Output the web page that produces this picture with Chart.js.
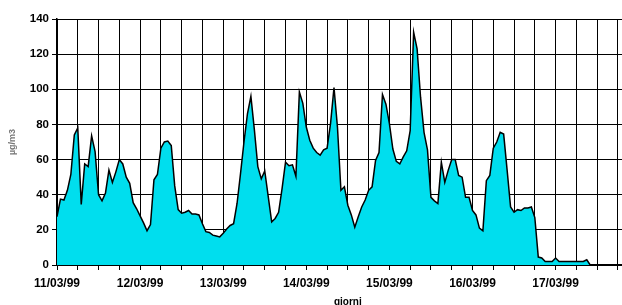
<!DOCTYPE html>
<html>
<head>
<meta charset="utf-8">
<script src="https://cdn.jsdelivr.net/npm/chart.js@4.4.1/dist/chart.umd.min.js"></script>
<style>
  html, body { margin: 0; padding: 0; background: #fff; overflow: hidden; }
  #wrap { width: 622px; height: 305px; overflow: hidden; position: relative; }
  canvas { display: block; }
</style>
</head>
<body>
<div id="wrap"><canvas id="c" width="660" height="312"></canvas></div>
<script>
// Day labels (one tick label per day, every 24 hours)
const dayLabels = ['11/03/99', '12/03/99', '13/03/99', '14/03/99', '15/03/99', '16/03/99', '17/03/99'];

// Hourly concentrations (µg/m3) from 11/03/99 00:00, one value per hour
const concentrations = [
  27.5, 37.5, 37, 42.5, 51.5, 74, 78, 34.5, 57.5, 56, 73.5, 64.5,
  40, 36.5, 41, 54, 47, 53, 60, 57.5, 50, 46.5, 35.5, 32,
  28, 24, 19.5, 23, 48.5, 51.5, 66.5, 70, 70.5, 68, 45, 31.5,
  29.5, 30, 31, 29, 29, 28.5, 23.5, 19, 18.5, 17, 16.5, 16,
  18, 20.5, 22.5, 23.5, 35, 52, 70, 86, 96, 77, 56, 49,
  53.5, 39, 24.5, 26.5, 30, 43.5, 58.5, 56.5, 57, 50.5, 98.5, 92,
  78.5, 71, 66.5, 64, 62.5, 65.5, 66.5, 80.5, 101, 78.5, 42.5, 44.5,
  34, 28.5, 21.5, 27.5, 33, 37, 42.5, 44.5, 59.5, 64, 97, 91.5,
  80.5, 66, 59, 57.5, 61.5, 65, 76.5, 132.5, 123, 95.5, 75.5, 65.5,
  38.5, 36.5, 35, 58.5, 47, 54, 60, 60, 51, 50, 38.5, 38.5,
  31, 28.5, 21, 19.5, 48, 51, 66.5, 70, 75.5, 74.5, 54, 33,
  30, 31.5, 31, 32.5, 32.5, 33, 27, 4.5, 4, 2, 2, 2,
  4, 2, 2, 2, 2, 2, 2, 2, 2, 3, 0, 0,
  0, 0, 0, 0, 0, 0, 0, 0, 0, 0, 0, 0,
  0
];

// Y axis tick range
const yMin = 0, yMax = 140, yStep = 20;
const hoursPerDay = 24, hourStep = 6;

const points = concentrations.map((v, i) => ({ x: i, y: v }));

const tickFont = { family: "'Liberation Sans', Arial, sans-serif", size: 12, weight: 'bold' };

new Chart(document.getElementById('c'), {
  type: 'line',
  data: {
    datasets: [{
      data: points,
      borderColor: '#000000',
      borderWidth: 1.5,
      backgroundColor: 'rgb(0,222,238)',
      fill: 'origin',
      pointRadius: 0,
      tension: 0
    }]
  },
  options: {
    responsive: false,
    animation: false,
    devicePixelRatio: 1,
    layout: { padding: { left: 0, top: 19, right: 21.3, bottom: 0 } },
    plugins: { legend: { display: false }, tooltip: { enabled: false } },
    scales: {
      x: {
        type: 'linear',
        min: 0,
        max: hoursPerDay * dayLabels.length,
        ticks: {
          stepSize: hourStep,
          autoSkip: false,
          maxRotation: 0,
          color: '#000',
          font: tickFont,
          padding: 6,
          callback: (v) => (v % hoursPerDay === 0 && dayLabels[v / hoursPerDay]) ? dayLabels[v / hoursPerDay] : ''
        },
        grid: { color: '#000', lineWidth: 1, tickLength: 5 },
        border: { color: '#000', width: 1.5 },
        title: {
          display: true, text: 'giorni', color: '#000',
          font: { family: "'Liberation Sans', Arial, sans-serif", size: 10, weight: 'bold' },
          padding: { top: 0, bottom: 4 }
        },
        afterFit: (s) => { s.height = 47; }
      },
      y: {
        min: yMin,
        max: yMax,
        ticks: {
          stepSize: yStep,
          color: '#000',
          font: { family: "'Liberation Sans', Arial, sans-serif", size: 11.5, weight: 'bold' },
          padding: 3
        },
        grid: { color: '#000', lineWidth: 1, tickLength: 5 },
        border: { color: '#000', width: 1.5 },
        title: {
          display: true, text: 'µg/m3', color: '#777',
          font: { family: "'Liberation Sans', Arial, sans-serif", size: 9, weight: 'bold' },
          padding: { top: 7, bottom: 0 }
        },
        afterFit: (s) => { s.width = 57; }
      }
    }
  }
});
</script>
</body>
</html>
